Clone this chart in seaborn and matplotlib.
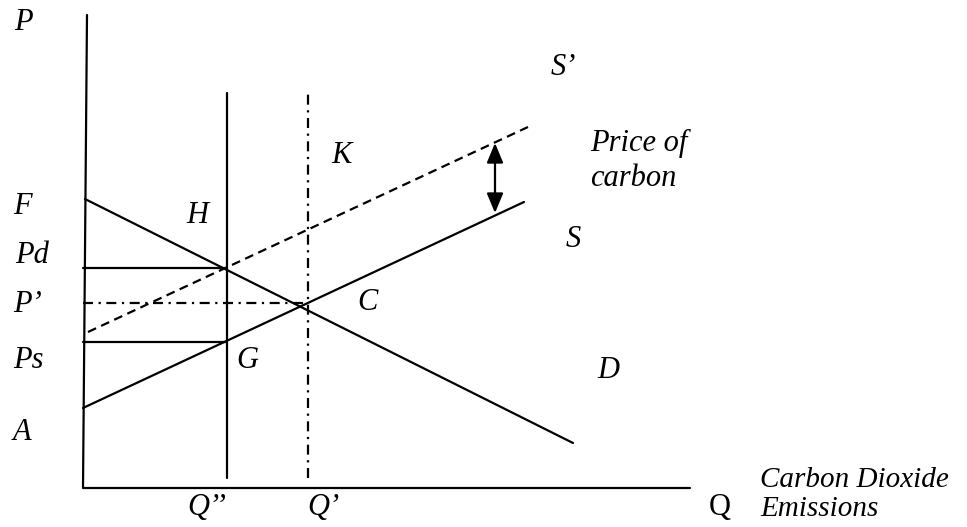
import numpy as np
import pandas as pd
import seaborn as sns
import matplotlib.pyplot as plt

# Diagram data (Q = quantity of emissions, P = price)
axis_q = [0.4, 0.0, 60.7]
axis_p = [47.3, 0.0, 0.0]

demand_q = [0.2, 49.0]
demand_p = [28.9, 4.5]

supply_q = [0.0, 44.1]
supply_p = [8.0, 28.6]

supply_tax_q = [0.5, 44.5]
supply_tax_p = [15.6, 36.1]

q_cap = 14.4      # Q''
q_eq = 22.5       # Q'
vline_p = [1.0, 39.5]

p_d = 22.0
p_eq = 18.5
p_s = 14.6

arrow_q = 41.2
arrow_p = [34.5, 27.5]

# labels: text, q, p, ha, size
labels = [
    ("P", -6.0, 46.5, "center", 22),
    ("F", -6.1, 28.1, "center", 22),
    ("Pd", -5.1, 23.2, "center", 22),
    ("P\u2019", -5.5, 18.3, "center", 22),
    ("Ps", -5.5, 12.8, "center", 22),
    ("A", -6.1, 5.6, "center", 22),
    ("H", 11.4, 27.2, "center", 22),
    ("G", 16.4, 12.8, "center", 22),
    ("C", 28.4, 18.5, "center", 22),
    ("K", 25.9, 33.2, "center", 22),
    ("S\u2019", 48.0, 42.0, "center", 22),
    ("S", 49.0, 24.8, "center", 22),
    ("D", 52.5, 11.8, "center", 22),
    ("Price of", 50.7, 34.5, "left", 22),
    ("carbon", 50.7, 30.9, "left", 22),
    ("Q\u2019\u2019", 12.4, -2.0, "center", 22),
    ("Q\u2019", 24.0, -2.0, "center", 22),
    ("Carbon Dioxide", 67.7, 0.8, "left", 21),
    ("Emissions", 67.7, -2.1, "left", 21),
]

sns.set_style("white")
plt.rcParams['font.family'] = ['Liberation Serif', 'DejaVu Serif']

fig = plt.figure(figsize=(9.67, 5.27), dpi=100)
ax = fig.add_axes([0, 0, 1, 1])

lw = 1.6
dashdot = (0, (4.5, 2.5, 1, 2.5))

def seg(q, p, **kw):
    sns.lineplot(x=q, y=p, ax=ax, color="black", linewidth=lw,
                 estimator=None, sort=False, **kw)

# axes
seg(axis_q, axis_p)
# demand and supply curves
seg(demand_q, demand_p)
seg(supply_q, supply_p)
seg(supply_tax_q, supply_tax_p, linestyle=(0, (4, 2.5)))
# quantity lines
seg([q_cap, q_cap], vline_p)
seg([q_eq, q_eq], vline_p, linestyle=dashdot)
# price lines
seg([0, q_cap], [p_d, p_d])
seg([0, q_cap], [p_s, p_s])
seg([0, q_eq], [p_eq, p_eq], linestyle=dashdot)

# price of carbon arrow
ax.annotate("", xy=(arrow_q, arrow_p[0]), xytext=(arrow_q, arrow_p[1]),
            arrowprops=dict(arrowstyle="<|-|>,head_length=0.6,head_width=0.25",
                            color="black", lw=lw,
                            mutation_scale=20, shrinkA=0, shrinkB=0))

for txt, q, p, ha, fs in labels:
    ax.text(q, p, txt, fontsize=fs, style="italic", ha=ha, va="center",
            color="black")
ax.text(63.7, -1.9, "Q", fontsize=22, ha="center", va="center", color="black")

ax.set_xlim(-8.3, 88.4)
ax.set_ylim(-3.9, 48.8)
ax.axis("off")

fig.savefig("out.png", dpi=100)
